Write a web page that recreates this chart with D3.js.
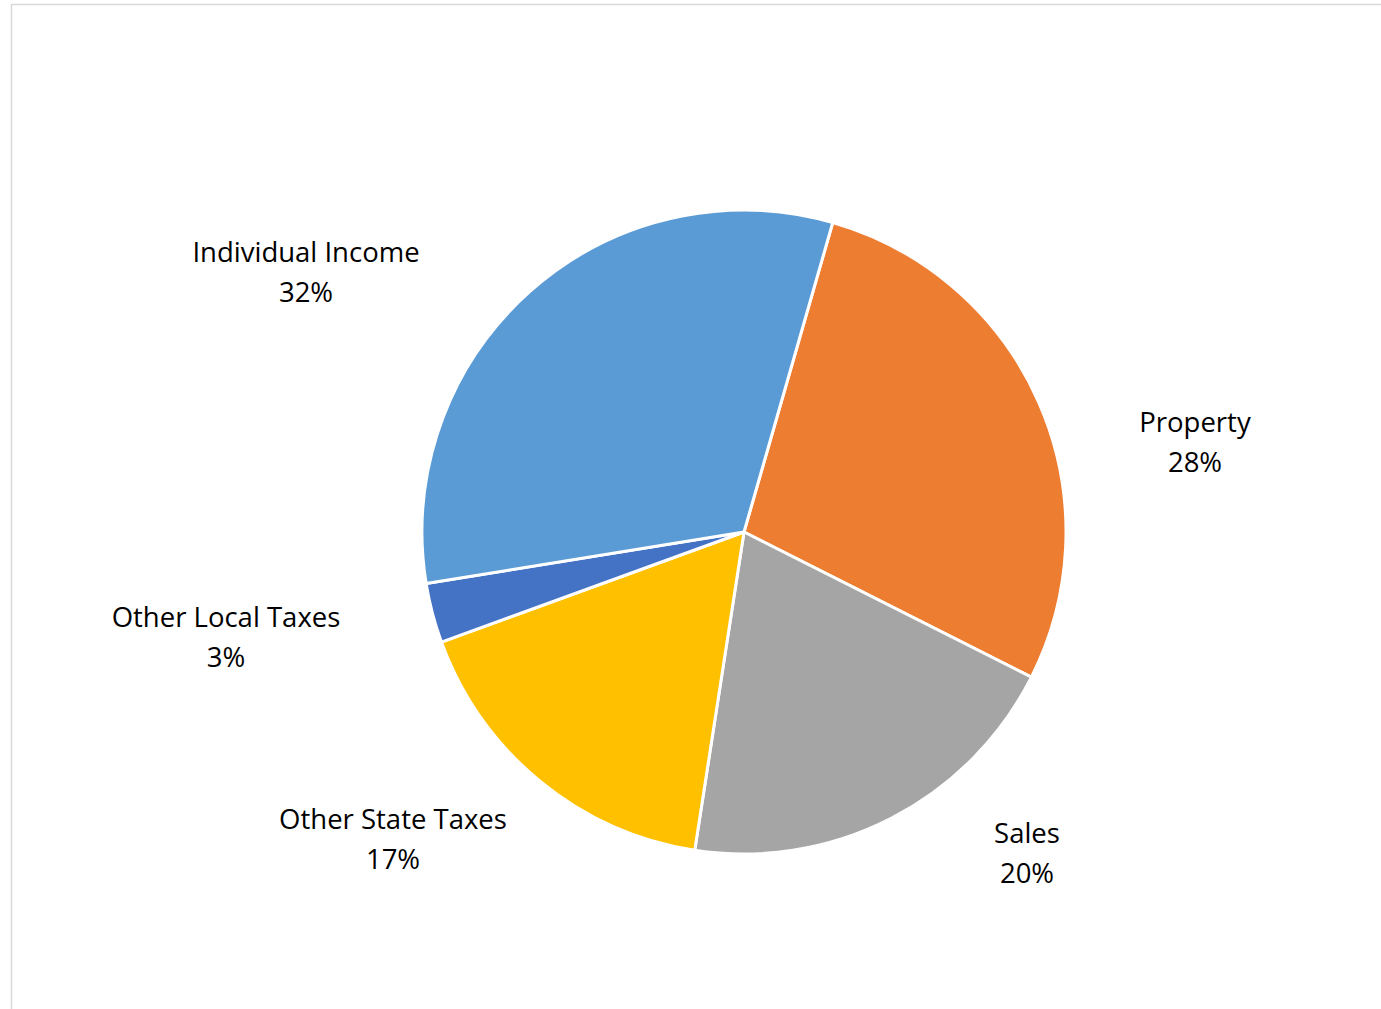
<!DOCTYPE html>
<html>
<head>
<meta charset="utf-8">
<script src="https://cdn.jsdelivr.net/npm/d3@7"></script>
<style>
  html, body { margin: 0; padding: 0; background: #fff; }
  svg { display: block; }
</style>
</head>
<body>
<svg id="chart"></svg>
<script>
// data, in drawing order (clockwise from the first slice angle)
const categories = ["Property", "Sales", "Other State Taxes", "Other Local Taxes", "Individual Income"];
const shares = [28, 20, 17, 3, 32];
const colors = ["#ED7D31", "#A5A5A5", "#FFC000", "#4472C4", "#5B9BD5"];

// label placement relative to pie centre (Excel "best fit" positions)
const labelOffsets = [[451, -100], [283, 311], [-351, 297], [-518, 95], [-438, -270]];

const w = 1381;
const h = 1009;
const cx = 744;
const cy = 532;
const radius = 322;
const firstSliceAngle = 16; // degrees

const svg = d3.select("#chart")
  .attr("width", w)
  .attr("height", h);

// chart area frame
svg.append("rect")
  .attr("x", 11.5)
  .attr("y", 4.5)
  .attr("width", w + 10)
  .attr("height", h + 10)
  .attr("fill", "#fff")
  .attr("stroke", "#d9d9d9")
  .attr("stroke-width", 1.5);

const pie = d3.pie()
  .sort(null)
  .startAngle(firstSliceAngle * Math.PI / 180)
  .endAngle((firstSliceAngle + 360) * Math.PI / 180);

const arc = d3.arc()
  .innerRadius(0)
  .outerRadius(radius);

const arcs = pie(shares);

const g = svg.append("g")
  .attr("transform", `translate(${cx},${cy})`);

g.selectAll("path")
  .data(arcs)
  .enter()
  .append("path")
  .attr("d", arc)
  .attr("fill", (d, i) => colors[i])
  .attr("stroke", "#fff")
  .attr("stroke-width", 3)
  .attr("stroke-linejoin", "round");

const labels = g.selectAll("text")
  .data(arcs)
  .enter()
  .append("text")
  .attr("text-anchor", "middle")
  .attr("font-family", "'Open Sans', 'Liberation Sans', sans-serif")
  .attr("font-size", 27.5)
  .attr("fill", "#000");

labels.append("tspan")
  .attr("x", (d, i) => labelOffsets[i][0])
  .attr("y", (d, i) => labelOffsets[i][1])
  .text((d, i) => categories[i]);

labels.append("tspan")
  .attr("x", (d, i) => labelOffsets[i][0])
  .attr("dy", 40)
  .text((d) => d3.format(".0%")(d.data / 100));
</script>
</body>
</html>
